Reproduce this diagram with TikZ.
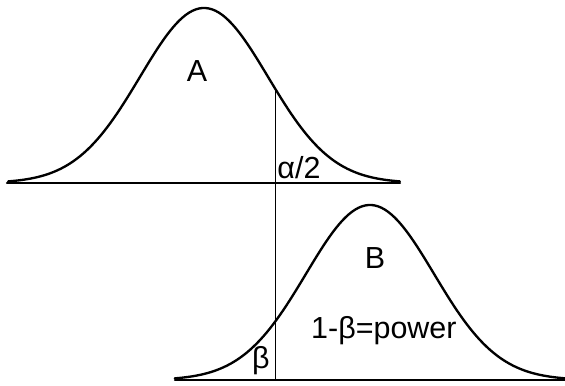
\documentclass[tikz,border=0pt]{standalone}
\usepackage{fontspec}
\setmainfont{Liberation Sans}
\begin{document}
\begin{tikzpicture}[
  x=0.03cm, y=-0.03cm,
  curve/.style={line width=2pt, line cap=round, line join=round},
  cut/.style={line width=0.8pt},
  lbl/.style={inner sep=0pt, anchor=base, font=\fontsize{26}{30}\selectfont}
]
  \useasboundingbox (0,0) rectangle (565,385);

  % Distribution A
  \draw[curve] plot[domain=-3.06:3.06, samples=120] ({204+64*\x},{183-175*exp(-\x*\x/2)});
  \coordinate (aleft) at (7,183);
  \coordinate (aright) at (400,183);
  \draw[curve] (aleft) -- (aright);

  % Distribution B
  \draw[curve] plot[domain=-3.05:3.05, samples=120] ({370+64*\x},{380-175*exp(-\x*\x/2)});
  \coordinate (bleft) at (175,380);
  \coordinate (bright) at (565,380);
  \draw[curve] (bleft) -- (bright);

  % Critical value
  \coordinate (cuttop) at (275,88);
  \coordinate (cutbot) at (275,381);
  \draw[cut] (cuttop) -- (cutbot);

  % Labels
  \node[lbl] (la) at (197,81) {A};
  \node[lbl] (lalpha) at (299,178) {α/2};
  \node[lbl] (lb) at (375,268) {B};
  \node[lbl, anchor=base west] (lpower) at (311,338) {1-β=power};
  \node[lbl] (lbeta) at (261,368) {β};
\end{tikzpicture}
\end{document}
